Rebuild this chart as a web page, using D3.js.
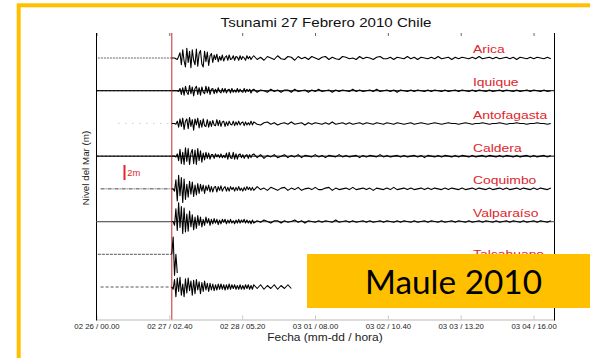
<!doctype html>
<html>
<head>
<meta charset="utf-8">
<title>Tsunami 27 Febrero 2010 Chile</title>
<style>
  body { margin: 0; background: #fff; }
  text { font-family: "Liberation Sans", Arial, sans-serif; }
</style>
</head>
<body>
<script src="https://d3js.org/d3.v7.min.js"></script>
<script>
// tide gauges, top to bottom (the last label sits under the yellow box)
var stations = ["Arica", "Iquique", "Antofagasta", "Caldera", "Coquimbo", "Valparaíso", "Talcahuano", ""];

// x axis
var axisStart = "2010-02-26T00:00";
var axisEnd = "2010-03-04T23:40";
var tickTimes = ["2010-02-26T00:00", "2010-02-27T02:40", "2010-02-28T05:20", "2010-03-01T08:00",
                 "2010-03-02T10:40", "2010-03-03T13:20", "2010-03-04T16:00"];
var quakeTime = "2010-02-27T03:34";

// hours after axisStart where each pre-quake record begins
var recordFrom = [0.5, 0, 8, 0, 1.5, 0, 0.5, 1.5];

// sea level in decimetres: every 0.5 h for the first 30 h after the quake,
// then every 1.25 h
var aricaHead = [0,0,0,-1,-2,2,7,-9,11,-4, -12,13,-6,9,-13,11,-3,-9,12,-11, 6,10,-8,-12,9,-5,8,-10,3,6,
                 -6,4,-2,5,-5,2,-3,4,-4,1, 3,-3,4,-2,-1,3,-3,2,1,-3, 3,-2,2,0,-3,3,-1,2,-2,1];
var aricaTail = [3,-2,1,-3,2,0,-2,3,-1,-2, 2,1,-3,2,-1,1,-2,2,0,-2, 1,2,-2,1,-1,-2,2,1,-1,0,
                 -2,2,-1,1,0,-2,1,2,-1,-1, 1,-2,1,0,-1,2,-1,1,-2,1, 0,-1,1,-1,2,-1,0,1,-2,1,
                 -1,1,0,-1,1,-1,2,-1,0,1, -1,1,-1,0,1,-1,1,-2,1,0, -1,1,-1,1,0,-1,1,-1];

var iquiqueHead = [0,0,0,0,0,-1,3,-5,4,-6, 6,-2,-5,7,-4,5,-7,3,6,-5, 4,-6,5,-2,-4,6,-3,5,-5,2,
                   3,-4,2,-3,4,-1,-3,3,-2,3, -3,1,2,-3,3,-2,1,-2,3,-2, 2,-1,-2,3,-2,2,-1,2,-3,1];
var iquiqueTail = [2,-2,1,0,-2,2,-1,1,-2,1, 1,-2,2,-1,0,1,-2,1,-1,2, -1,0,1,-2,1,-1,1,0,-1,2,
                   -1,1,-1,0,1,-1,2,-1,0,1, -1,1,-2,1,0,-1,1,-1,1,0, -1,1,-1,1,0,-1,1,-1,0,1,
                   -1,1,0,-1,1,-1,1,0,-1,1, -1,0,1,-1,1,0,-1,1,-1,0, 1,-1,1,0,-1,1,-1,0];

var antofagastaHead = [0,0,0,-1,3,-5,6,-4,7,-8, 3,6,-7,8,-4,5,-9,6,-2,7, -6,4,-5,6,-3,-4,5,-5,3,-4,
                       4,-2,-3,5,-3,4,-4,2,3,-4, 2,-3,3,-1,-2,3,-3,2,-2,3, -2,1,2,-3,2,-2,1,-2,3,-2];
var antofagastaTail = [2,-1,-2,1,2,-1,1,-2,0,1, -1,2,-1,0,1,-2,1,-1,1,0, -1,1,-1,2,-1,0,1,-1,1,-1,
                       0,1,-1,1,0,-1,1,0,-1,1, 0,-1,1,0,-1,0,1,-1,0,1, 0,-1,0,1,0,-1,0,1,0,0,
                       -1,0,1,0,-1,0,0,1,0,-1, 0,0,1,0,-1,0,0,1,0,0, -1,0,0,1,0,0,-1,0];

var calderaHead = [0,0,0,-1,3,-6,9,-10,5,-11, 11,-7,10,-11,4,9,-10,8,-11,10, -6,7,-8,4,-5,5,-3,4,-4,2,
                   2,-3,3,-1,2,-2,3,-2,1,-2, 4,-4,5,-2,-3,5,-4,3,-4,2, 3,-2,2,-3,1,2,-3,2,-2,2];
var calderaTail = [3,-2,2,-3,1,-1,2,-2,0,2, -2,1,-1,2,-2,1,0,-1,2,-1, 1,-2,1,0,-1,2,-1,1,-1,0,
                   1,-2,1,-1,1,0,-1,2,-1,1, -1,0,1,-1,1,-1,0,1,-1,1, -2,1,0,-1,1,-1,1,0,-1,1,
                   -1,1,0,-1,1,-1,0,1,-1,1, 0,-1,1,-1,1,0,-1,1,-1,0, 1,-1,1,-1,0,1,-1,1];

var coquimboHead = [0,0,-3,12,-16,18,-9,15,-18,13, -14,6,-11,10,-7,9,-10,5,-8,7, -6,6,-3,5,-6,4,-2,5,-4,3,
                    -4,2,3,-4,3,-2,4,-3,1,3, -3,2,-3,3,-1,2,-3,2,-2,3, -2,1,-3,2,-2,3,-1,2,-2,2];
var coquimboTail = [-2,3,-1,1,-2,2,0,-2,1,2, -2,1,-1,2,-2,0,1,-1,2,-1, -1,1,2,-2,1,-1,0,1,-1,2,
                    -1,0,1,-1,1,-2,1,0,-1,1, -1,2,-1,0,1,-1,1,-1,0,1, -1,1,-1,1,0,-1,1,-1,1,0,
                    -1,1,-1,0,1,-1,1,0,-1,1, -1,0,1,-1,1,-1,0,1,-1,1, 0,-1,1,-1,1,0,-1,1];

var valparaisoHead = [0,0,-5,17,-12,25,-8,20,-16,18, -14,10,-13,14,-7,9,-11,6,-9,8, -5,6,-7,3,-5,6,-2,4,-5,3,
                      -3,4,-2,3,-4,2,-3,3,-1,3, -3,2,-2,3,-2,1,-3,2,-2,3, -2,2,-1,3,-2,2,-2,1,-3,2];
var valparaisoTail = [-2,1,-1,2,0,-2,1,1,-2,1, -1,0,2,-1,1,-2,1,0,-1,1, -1,1,0,-1,2,-1,0,1,-1,1,
                      -1,0,1,-1,1,-1,0,1,-1,1, 0,-1,1,-1,1,0,-1,1,-1,0, 1,-1,1,0,-1,1,-1,0,1,-1,
                      1,0,-1,1,-1,0,1,-1,1,0, -1,1,-1,0,1,-1,1,0,-1,1, -1,0,1,-1,1,0,-1,1];

// Talcahuano gauge was torn off by the first wave
var talcahuanoHead = [0,23,-28,0,-25];
var talcahuanoTail = [];

var lastHead = [0,-3,10,-13,12,-6,13,-11,4,-13, 11,-8,12,-5,8,-11,9,-9,10,-4, 7,-9,6,-6,8,-4,5,-6,5,-4,
                4,-5,3,-4,4,-3,4,-3,3,-4, 3,-3,4,-3,3,-2,3,-3,2,-3, 3,-3,2,-3,3,-2,3,-3,2,-3];
var lastTail = [3,-2,3,-3,2,-2,3,-3,2,-2,3,-2];

var heads = [aricaHead, iquiqueHead, antofagastaHead, calderaHead, coquimboHead, valparaisoHead, talcahuanoHead, lastHead];
var tails = [aricaTail, iquiqueTail, antofagastaTail, calderaTail, coquimboTail, valparaisoTail, talcahuanoTail, lastTail];

var HEAD_STEP = 0.5, HEAD_HOURS = 30, TAIL_STEP = 1.25;

var W = 590, H = 358;
var yellow = "#FFC000", red = "#e0252b";
var parse = d3.utcParse("%Y-%m-%dT%H:%M");
var fmt = d3.utcFormat("%m %d / %H.%M");
var quake = parse(quakeTime);
var start = parse(axisStart);

function addHours(d, h) { return new Date(+d + h * 3600e3); }

var svg = d3.select("body").append("svg")
    .attr("width", W)
    .attr("height", H);

// slide frame
svg.append("rect")
    .attr("x", 18.7).attr("y", 5.3)
    .attr("width", 700).attr("height", 500)
    .attr("fill", "none")
    .attr("stroke", yellow)
    .attr("stroke-width", 4);

var x = d3.scaleUtc()
    .domain([start, parse(axisEnd)])
    .range([96.5, 554.5]);

var yBase = d3.scalePoint()
    .domain(d3.range(stations.length))
    .range([58, 287]);

// decimetres -> pixels (2 m bar is 15 px)
var amp = d3.scaleLinear().domain([0, 1]).range([0, -0.75]);

var plotTop = 33, plotBottom = 319.5;

// bottom axis
var xAxis = svg.append("g")
    .attr("transform", "translate(0," + plotBottom + ")")
    .call(d3.axisBottom(x)
        .tickValues(tickTimes.map(parse))
        .tickFormat(fmt)
        .tickSizeInner(-4)
        .tickSizeOuter(0)
        .tickPadding(4));
xAxis.attr("font-family", null).attr("font-size", null);
xAxis.select(".domain").attr("stroke", "#d0d0d0").attr("stroke-width", 1.5);
xAxis.selectAll(".tick line").attr("stroke", "#c8c8c8");
xAxis.selectAll(".tick text")
    .attr("font-size", 7.2)
    .attr("fill", "#222")
    .attr("transform", "scale(1.08,1)");

// small ticks on top
var topAxis = svg.append("g")
    .attr("transform", "translate(0," + plotTop + ")")
    .call(d3.axisTop(x)
        .tickValues(tickTimes.map(parse))
        .tickFormat("")
        .tickSizeInner(-3)
        .tickSizeOuter(0));
topAxis.select(".domain").remove();
topAxis.selectAll(".tick line").attr("stroke", "#666");

// left and right frame lines
svg.selectAll(".side")
    .data(x.range())
    .join("line")
    .attr("x1", d => d).attr("x2", d => d)
    .attr("y1", plotTop).attr("y2", plotBottom + 1)
    .attr("stroke", "#000")
    .attr("stroke-width", 1);

// full width reference lines
var fullLines = { 1: "#000", 3: "#000", 5: "#666" };
Object.keys(fullLines).forEach(function (k) {
    svg.append("line")
        .attr("x1", x.range()[0]).attr("x2", x.range()[1])
        .attr("y1", yBase(+k)).attr("y2", yBase(+k))
        .attr("stroke", fullLines[k])
        .attr("stroke-width", k == 5 ? 1.3 : 1);
});

// pre-quake records
var preDash = ["2,1", "3,1", "1,6", "3,1", "4,1,1,1", "3,1", "3,1", "3,2"];
var preColor = ["#555", "#000", "#aaa", "#000", "#333", "#666", "#444", "#444"];
stations.forEach(function (s, i) {
    svg.append("line")
        .attr("x1", x(addHours(start, recordFrom[i])))
        .attr("x2", x(quake))
        .attr("y1", yBase(i)).attr("y2", yBase(i))
        .attr("stroke", preColor[i])
        .attr("stroke-width", 0.9)
        .attr("stroke-dasharray", preDash[i]);
});

// event line
svg.append("line")
    .attr("x1", x(quake)).attr("x2", x(quake))
    .attr("y1", plotTop).attr("y2", plotBottom)
    .attr("stroke", "#c8282e")
    .attr("stroke-width", 1);

// waveforms
var line = d3.line()
    .x(d => x(addHours(quake, d.t)))
    .y(d => d.y);

stations.forEach(function (s, i) {
    var pts = heads[i].map((v, j) => ({ t: j * HEAD_STEP, y: yBase(i) + amp(v) }))
        .concat(tails[i].map((v, j) => ({ t: HEAD_HOURS + j * TAIL_STEP, y: yBase(i) + amp(v) })));
    svg.append("path")
        .attr("d", line(pts))
        .attr("fill", "none")
        .attr("stroke", "#000")
        .attr("stroke-width", 1.1)
        .attr("stroke-linejoin", "round");
});

function stretched(xp, yp, sx) {
    return "translate(" + xp + "," + yp + ") scale(" + sx + ",1)";
}

// station labels
svg.selectAll(".station")
    .data(stations)
    .join("text")
    .attr("transform", (d, i) => stretched(473, yBase(i) - 4.6 + (i === 6 ? 8 : 0), 1.21))
    .attr("font-size", 11.5)
    .attr("fill", red)
    .text(d => d);

// 2 m scale bar
svg.append("line")
    .attr("x1", 124.5).attr("x2", 124.5)
    .attr("y1", 180).attr("y2", 180 + amp(20))
    .attr("stroke", red)
    .attr("stroke-width", 2);
svg.append("text")
    .attr("transform", stretched(127.3, 175.5, 1.1))
    .attr("font-size", 8.5)
    .attr("fill", red)
    .text("2m");

// title and axis titles
svg.append("text")
    .attr("transform", stretched(326, 27, 1.2))
    .attr("text-anchor", "middle")
    .attr("font-size", 12.6)
    .attr("fill", "#111")
    .text("Tsunami 27 Febrero 2010 Chile");

svg.append("text")
    .attr("transform", stretched(325, 340.7, 1.16))
    .attr("text-anchor", "middle")
    .attr("font-size", 10.3)
    .attr("fill", "#222")
    .text("Fecha (mm-dd / hora)");

svg.append("text")
    .attr("transform", "translate(89,168) rotate(-90)")
    .attr("text-anchor", "middle")
    .attr("font-size", 9.8)
    .attr("fill", "#222")
    .text("Nivel del Mar (m)");

// yellow tag
svg.append("rect")
    .attr("x", 307).attr("y", 254)
    .attr("width", 300).attr("height", 54)
    .attr("fill", yellow);
svg.append("text")
    .attr("x", 453.5).attr("y", 294)
    .attr("text-anchor", "middle")
    .style("font-family", "Lato, 'Open Sans', sans-serif")
    .attr("font-size", 32)
    .attr("textLength", 177)
    .attr("lengthAdjust", "spacingAndGlyphs")
    .attr("fill", "#000")
    .text("Maule 2010");
</script>
</body>
</html>
